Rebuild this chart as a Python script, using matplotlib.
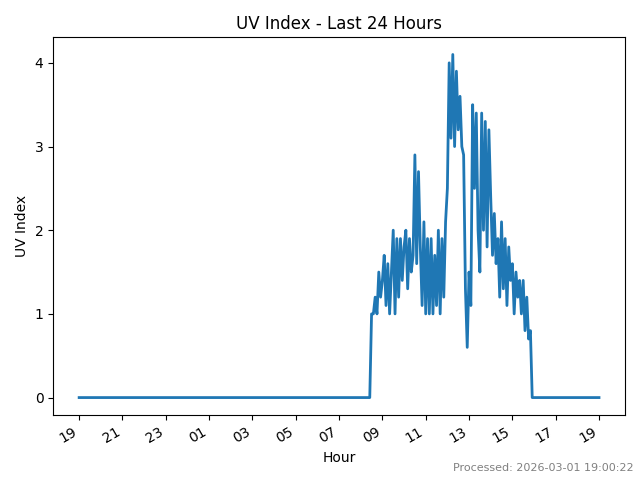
import numpy as np
import pandas as pd
import matplotlib
matplotlib.use("Agg")
import matplotlib.pyplot as plt
import matplotlib.dates as mdates

start = pd.Timestamp("2026-02-28 19:00")
day_start = pd.Timestamp("2026-03-01 08:30")
day_end = pd.Timestamp("2026-03-01 16:00")
end = pd.Timestamp("2026-03-01 19:00")

# UV readings every 5 minutes from 08:30 to 16:00
uv_day = [
    1.0, 1.0, 1.2, 1.0, 1.5, 1.2,
    1.4, 1.7, 1.1, 1.6, 1.0, 1.5,
    2.0, 1.0, 1.9, 1.2, 1.9, 1.4,
    1.8, 2.0, 1.3, 1.9, 1.5, 1.7,
    2.9, 1.6, 2.7, 1.8, 1.1, 2.1,
    1.0, 1.9, 1.0, 1.9, 1.0, 1.7,
    1.1, 2.0, 1.0, 1.9, 1.2, 2.1,
    2.5, 4.0, 3.1, 4.1, 3.0, 3.9,
    3.2, 3.6, 3.0, 2.9, 1.3, 0.6,
    1.5, 1.1, 3.5, 2.5, 3.4, 2.0,
    1.5, 3.4, 2.0, 3.3, 1.8, 3.2,
    2.4, 1.7, 2.2, 1.6, 1.9, 1.2,
    2.1, 1.3, 1.9, 1.1, 1.8, 1.4,
    1.6, 1.0, 1.5, 1.2, 1.4, 1.0,
    1.4, 0.8, 1.2, 0.7, 0.8, 0.0,
]

t_night1 = pd.date_range(start, day_start - pd.Timedelta(minutes=5), freq="5min")
t_day = pd.date_range(day_start, periods=len(uv_day), freq="5min")
t_night2 = pd.date_range(t_day[-1] + pd.Timedelta(minutes=5), end, freq="5min")

times = t_night1.append(t_day).append(t_night2)
uv = [0.0] * len(t_night1) + uv_day + [0.0] * len(t_night2)

fig, ax = plt.subplots(figsize=(6.4, 4.8), dpi=100)
ax.plot(times, uv, color="#1f77b4", linewidth=2)
ax.set_title("UV Index - Last 24 Hours")
ax.set_xlabel("Hour")
ax.set_ylabel("UV Index")
ax.xaxis.set_major_locator(mdates.HourLocator(byhour=range(1, 24, 2)))
ax.xaxis.set_major_formatter(mdates.DateFormatter("%H"))
fig.autofmt_xdate()
fig.tight_layout()
fig.text(0.99, 0.015, "Processed: 2026-03-01 19:00:22", ha="right", va="bottom",
         fontsize=8, color="gray")
fig.savefig("out.png")
